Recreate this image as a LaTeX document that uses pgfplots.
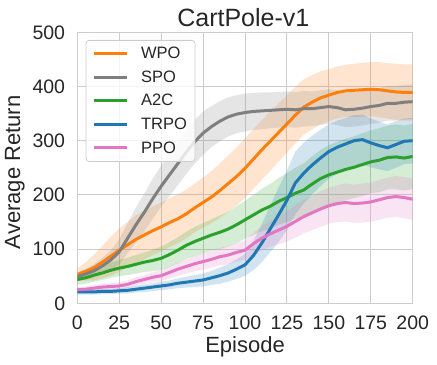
\documentclass[border=0pt]{standalone}
\usepackage{fontspec}
\setmainfont{Liberation Sans}
\usepackage{pgfplots}
\pgfplotsset{compat=1.18}
\usepackage{pgfplotstable}
\usepgfplotslibrary{fillbetween}
\definecolor{cWPO}{HTML}{FF7F0E}
\definecolor{cSPO}{HTML}{7F7F7F}
\definecolor{cA2C}{HTML}{2CA02C}
\definecolor{cTRPO}{HTML}{1F77B4}
\definecolor{cPPO}{HTML}{E377C2}
\definecolor{txt}{HTML}{262626}
\definecolor{gridc}{HTML}{CCCCCC}
\pgfplotstableread{
x wm ws gm gs am as bm bs pm ps
0 53 11 49 8 44 10 21 5 25 5
5 59 17 54 10 47 11 21 5 26 5
10 66 24 60 12 52 12 21 5 28 6
15 76 30 69 15 56 13 22 5 30 6
20 87 36 80 18 61 14 22 5 31 6
25 98 40 95 23 65 15 23 5 32 7
30 108 42 120 28 68 16 24 6 35 7
35 118 44 145 32 72 17 26 6 40 8
40 126 45 168 35 76 18 28 7 44 8
45 134 45 193 37 79 20 30 7 48 9
50 141 45 216 38 83 22 32 8 51 10
55 149 45 237 39 90 23 34 8 57 11
60 156 45 258 40 98 24 37 9 63 12
65 165 45 279 40 107 25 39 10 68 13
70 176 45 298 40 114 27 41 11 73 14
75 186 46 314 40 120 28 43 12 77 15
80 196 48 326 38 126 29 47 13 81 15
85 208 50 336 37 131 31 51 15 86 16
90 221 52 344 36 137 32 56 16 89 17
95 234 54 349 35 145 34 63 18 94 17
100 249 55 352 35 154 35 71 20 98 18
105 266 55 354 34 163 37 88 27 110 20
110 283 55 355 34 172 39 111 35 120 22
115 299 55 356 33 179 41 137 43 128 24
120 315 54 357 33 188 43 163 50 135 26
125 331 53 358 33 195 45 190 55 142 28
130 347 52 357 33 203 47 222 58 151 30
135 362 51 359 33 209 49 240 56 160 31
140 371 50 359 32 220 51 255 54 167 32
145 379 49 361 32 230 53 268 52 174 33
150 384 48 363 32 237 55 280 50 180 33
155 389 48 361 32 242 56 288 49 184 34
160 392 48 357 32 247 57 294 48 186 35
165 393 49 358 32 251 57 300 47 184 35
170 394 50 360 32 256 58 302 46 185 36
175 395 50 363 32 261 58 296 45 187 36
180 394 51 365 32 264 59 291 44 191 37
185 392 51 369 32 269 59 287 43 195 37
190 390 52 369 32 270 60 293 43 197 38
195 389 52 371 32 268 60 299 42 195 38
200 389 52 372 32 271 60 300 42 192 38
}\data
\begin{document}
\begin{tikzpicture}
\begin{axis}[
  name=ax,
  scale only axis,
  width=335.4pt, height=271pt,
  xmin=0, xmax=200, ymin=0, ymax=500,
  xtick={0,25,...,200}, ytick={0,100,...,500},
  major tick length=0pt,
  grid=major,
  grid style={draw=gridc, line width=1pt},
  axis line style={draw=gridc, line width=1.2pt},
  no markers,
  /pgf/number format/assume math mode=true,
  tick label style={font=\fontsize{19.5}{20}\selectfont, text=txt, inner sep=0pt},
  xticklabel style={anchor=base, yshift=-26pt},
  yticklabel style={anchor=east, xshift=-12pt},
  title={CartPole-v1},
  every axis title/.style={at={(axis description cs:0.495,1.023)}, anchor=base, font=\fontsize{25}{25}\selectfont, text=txt},
  xlabel={Episode},
  ylabel={Average Return},
  every axis x label/.style={at={(axis description cs:0.5,-0.182)}, anchor=base, font=\fontsize{22}{22}\selectfont, text=txt},
  every axis y label/.style={at={(axis description cs:-0.186,0.483)}, anchor=center, rotate=90, font=\fontsize{22}{22}\selectfont, text=txt},
  legend cell align=left,
  legend image code/.code={\draw[#1, line width=3pt] (0pt,0pt) -- (33pt,0pt);},
  legend style={at={(axis description cs:0.025,0.9716)}, anchor=north west,
    draw=gridc, line width=0.8pt, rounded corners=3pt, fill=white, fill opacity=0.8, text opacity=1,
    font=\fontsize{16.5}{16.5}\selectfont, text=txt,
    inner xsep=6pt, inner ysep=5pt, row sep=6.5pt,
    /tikz/every odd column/.append style={column sep=11pt}},
]
% bands
\addplot[draw=none, name path=wu, forget plot] table[x=x, y expr=\thisrow{wm}+\thisrow{ws}] {\data};
\addplot[draw=none, name path=wl, forget plot] table[x=x, y expr=\thisrow{wm}-\thisrow{ws}] {\data};
\addplot[fill=cWPO, fill opacity=0.2, draw=none, forget plot] fill between[of=wu and wl];
\addplot[draw=none, name path=gu, forget plot] table[x=x, y expr=\thisrow{gm}+\thisrow{gs}] {\data};
\addplot[draw=none, name path=gl, forget plot] table[x=x, y expr=\thisrow{gm}-\thisrow{gs}] {\data};
\addplot[fill=cSPO, fill opacity=0.2, draw=none, forget plot] fill between[of=gu and gl];
\addplot[draw=none, name path=au, forget plot] table[x=x, y expr=\thisrow{am}+\thisrow{as}] {\data};
\addplot[draw=none, name path=al, forget plot] table[x=x, y expr=\thisrow{am}-\thisrow{as}] {\data};
\addplot[fill=cA2C, fill opacity=0.2, draw=none, forget plot] fill between[of=au and al];
\addplot[draw=none, name path=bu, forget plot] table[x=x, y expr=\thisrow{bm}+\thisrow{bs}] {\data};
\addplot[draw=none, name path=bl, forget plot] table[x=x, y expr=\thisrow{bm}-\thisrow{bs}] {\data};
\addplot[fill=cTRPO, fill opacity=0.2, draw=none, forget plot] fill between[of=bu and bl];
\addplot[draw=none, name path=pu, forget plot] table[x=x, y expr=\thisrow{pm}+\thisrow{ps}] {\data};
\addplot[draw=none, name path=pl, forget plot] table[x=x, y expr=\thisrow{pm}-\thisrow{ps}] {\data};
\addplot[fill=cPPO, fill opacity=0.2, draw=none, forget plot] fill between[of=pu and pl];
% lines
\addplot[cWPO, line width=3pt] table[x=x, y=wm] {\data};
\addlegendentry{WPO}
\addplot[cSPO, line width=3pt] table[x=x, y=gm] {\data};
\addlegendentry{SPO}
\addplot[cA2C, line width=3pt] table[x=x, y=am] {\data};
\addlegendentry{A2C}
\addplot[cTRPO, line width=3pt] table[x=x, y=bm] {\data};
\addlegendentry{TRPO}
\addplot[cPPO, line width=3pt] table[x=x, y=pm] {\data};
\addlegendentry{PPO}
\end{axis}
\pgfresetboundingbox
\path ([xshift=-77.3pt,yshift=-60.7pt]ax.south west) rectangle ([xshift=24.3pt,yshift=32.3pt]ax.north east);
\end{tikzpicture}
\end{document}
